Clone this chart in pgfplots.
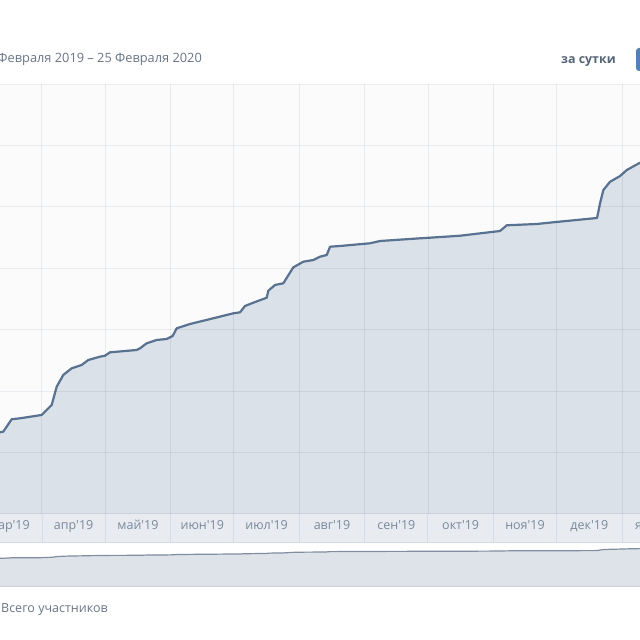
\documentclass[border=0pt]{standalone}
\usepackage{pgfplots}
\pgfplotsset{compat=1.18}
\usepackage{pgfplotstable}
\usepackage{fontspec}
\setmainfont{Open Sans}[Ligatures=TeXOff]

\definecolor{plotbg}{RGB}{251,251,252}
\definecolor{areafill}{RGB}{219,225,233}
\definecolor{linec}{RGB}{88,114,144}
\definecolor{gridc}{RGB}{236,239,243}
\definecolor{bandc}{RGB}{232,236,241}
\definecolor{bandborder}{RGB}{214,220,228}
\definecolor{labelc}{RGB}{122,136,156}
\definecolor{titlec}{RGB}{104,116,132}
\definecolor{boldc}{RGB}{85,100,120}
\definecolor{btnc}{RGB}{81,129,184}
\definecolor{navfill}{RGB}{222,227,234}
\definecolor{navline}{RGB}{128,142,160}
\definecolor{navborder}{RGB}{205,211,219}

% d = days since 1 Apr 2019, v = members (one grid step = 1)
\pgfplotstableread{
d v
-19.91 1.330
-18.35 1.340
-14.37 1.542
-10.43 1.558
-0.14 1.612
2.99 1.721
4.60 1.774
6.97 2.072
10.10 2.263
14.08 2.372
18.82 2.426
21.95 2.507
27.50 2.561
29.87 2.577
32.24 2.632
44.90 2.670
46.46 2.697
49.64 2.779
54.38 2.833
59.12 2.849
61.97 2.898
63.86 3.023
70.17 3.093
81.22 3.186
90.70 3.267
93.88 3.283
96.25 3.386
100.18 3.440
106.54 3.521
107.30 3.635
110.47 3.728
114.41 3.756
119.15 4.016
123.89 4.107
128.63 4.135
131.81 4.189
134.98 4.216
136.55 4.351
141.29 4.363
155.51 4.407
160.26 4.444
179.22 4.488
183.96 4.498
198.19 4.530
217.15 4.607
220.33 4.700
234.55 4.721
242.43 4.749
263.14 4.819
264.56 5.058
266.13 5.274
269.31 5.409
274.05 5.502
277.23 5.600
283.53 5.719
}\members

\begin{document}
\begin{tikzpicture}
\useasboundingbox (0,0) rectangle (640bp,640bp);
\clip (0,0) rectangle (640bp,640bp);

% main chart
\begin{axis}[
  at={(0bp,126bp)}, anchor=south west,
  scale only axis, width=640bp, height=430bp,
  xmin=-19.9, xmax=283.5, ymin=0, ymax=7,
  xtick={0,30,61,91,122,153,183,214,244,275},
  ytick={0,...,7},
  xticklabels={}, yticklabels={},
  grid=major,
  grid style={gridc, line width=1bp, blend mode=multiply},
  axis line style={draw=none},
  tick style={draw=none},
  axis background/.style={fill=plotbg},
  axis on top,
]
\addplot[fill=areafill, draw=none] table[x=d,y=v]{\members} \closedcycle;
\addplot[linec, line width=2.2bp, line join=round] table[x=d,y=v]{\members};
\end{axis}

% month band
\begin{axis}[
  at={(-23.38bp,97bp)}, anchor=south west,
  scale only axis, width=710.77bp, height=29bp,
  xmin=-31, xmax=306, ymin=0, ymax=1,
  xtick={-15.5,15,45.5,76,106.5,137.5,168,198.5,229,259.5,290.5},
  xticklabels={мар'19,апр'19,май'19,июн'19,июл'19,авг'19,сен'19,окт'19,ноя'19,дек'19,янв'20},
  minor xtick={-31,0,30,61,91,122,153,183,214,244,275,306},
  xminorgrids,
  minor grid style={gridc, line width=1bp, blend mode=multiply},
  ytick=\empty,
  axis line style={draw=none},
  tick style={draw=none},
  axis background/.style={fill=bandc},
  xticklabel style={anchor=base, yshift=13.5bp, inner sep=0pt,
    font=\fontsize{12.5bp}{15bp}\selectfont, text=labelc},
]
\draw[bandborder, line width=1bp] (rel axis cs:0,0) -- (rel axis cs:1,0);
\end{axis}

% navigator
\begin{axis}[
  at={(0bp,53bp)}, anchor=south west,
  scale only axis, width=640bp, height=44bp,
  xmin=-19.9, xmax=283.5, ymin=0, ymax=20,
  xtick=\empty, ytick=\empty,
  axis line style={draw=none},
]
\addplot[fill=navfill, draw=none] table[x=d, y expr=\thisrow{v}+11.73]{\members} \closedcycle;
\addplot[navline, line width=1.2bp] table[x=d, y expr=\thisrow{v}+11.73]{\members};
\draw[navborder, line width=1bp] (rel axis cs:0,0) -- (rel axis cs:1,0);
\end{axis}

\node[anchor=base east, inner sep=0, text=titlec, font=\fontsize{12.8bp}{16bp}\selectfont]
  at (202bp,577.5bp) {25 Февраля 2019 – 25 Февраля 2020};
\node[anchor=base west, inner sep=0, text=boldc, font=\bfseries\fontsize{12.4bp}{16bp}\selectfont]
  at (561bp,576.7bp) {за сутки};
\fill[btnc, rounded corners=3bp] (636bp,569bp) rectangle (690bp,592bp);
\node[anchor=base west, inner sep=0, text=titlec, font=\fontsize{12.5bp}{15bp}\selectfont]
  at (1bp,27.5bp) {Всего участников};
\end{tikzpicture}
\end{document}
